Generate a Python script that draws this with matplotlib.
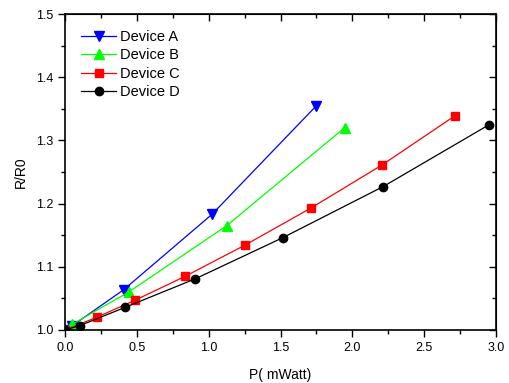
import matplotlib
matplotlib.use("Agg")
import matplotlib.pyplot as plt
from matplotlib.ticker import MultipleLocator

plt.rcParams['font.family'] = ['Liberation Sans', 'DejaVu Sans']

# data
a_x = [0.0, 0.046, 0.41, 1.023, 1.75]
a_y = [1.0, 1.006, 1.064, 1.183, 1.355]
b_x = [0.0, 0.05, 0.443, 1.125, 1.946]
b_y = [1.0, 1.009, 1.060, 1.165, 1.320]
c_x = [0.0, 0.22, 0.487, 0.837, 1.25, 1.712, 2.206, 2.714]
c_y = [1.0, 1.020, 1.047, 1.085, 1.134, 1.193, 1.261, 1.339]
d_x = [0.0, 0.104, 0.42, 0.907, 1.515, 2.215, 2.953]
d_y = [1.0, 1.007, 1.036, 1.081, 1.146, 1.227, 1.325]

fig = plt.figure(figsize=(5.09, 3.83), dpi=100)
ax = fig.add_axes([0.1277, 0.1384, 0.8468, 0.825])

ax.plot(a_x, a_y, color="#0000ff", marker="v", ms=7, lw=0.9, label="Device A")
ax.plot(b_x, b_y, color="#00ff00", marker="^", ms=7, lw=0.9, label="Device B")
ax.plot(c_x, c_y, color="#ff0000", marker="s", ms=6, lw=0.9, label="Device C")
ax.plot(d_x, d_y, color="#000000", marker="o", ms=6, lw=0.9, label="Device D")

ax.set_xlim(0, 3.0)
ax.set_ylim(1.0, 1.5)
ax.xaxis.set_major_locator(MultipleLocator(0.5))
ax.xaxis.set_minor_locator(MultipleLocator(0.25))
ax.yaxis.set_major_locator(MultipleLocator(0.1))
ax.yaxis.set_minor_locator(MultipleLocator(0.05))

ax.tick_params(which="both", direction="out", labelsize=9, width=1)
ax.tick_params(which="major", length=5)
ax.tick_params(which="minor", length=3)
# mirrored ticks on top/right point inward
axt = ax.secondary_xaxis("top")
axt.xaxis.set_major_locator(MultipleLocator(0.5))
axt.xaxis.set_minor_locator(MultipleLocator(0.25))
axt.tick_params(which="both", direction="in", labeltop=False, width=1)
axt.tick_params(which="major", length=5)
axt.tick_params(which="minor", length=3)
axr = ax.secondary_yaxis("right")
axr.yaxis.set_major_locator(MultipleLocator(0.1))
axr.yaxis.set_minor_locator(MultipleLocator(0.05))
axr.tick_params(which="both", direction="in", labelright=False, width=1)
axr.tick_params(which="major", length=5)
axr.tick_params(which="minor", length=3)

for s in ax.spines.values():
    s.set_linewidth(1.2)

ax.set_xlabel("P( mWatt)", fontsize=10, labelpad=10)
ax.set_ylabel("R/R0", fontsize=10, labelpad=6)

ax.legend(loc="upper left", frameon=False, fontsize=10.5, handlelength=2.4,
          handletextpad=0.3, labelspacing=0.3, borderaxespad=0.7)

fig.savefig("out.png", dpi=100)
